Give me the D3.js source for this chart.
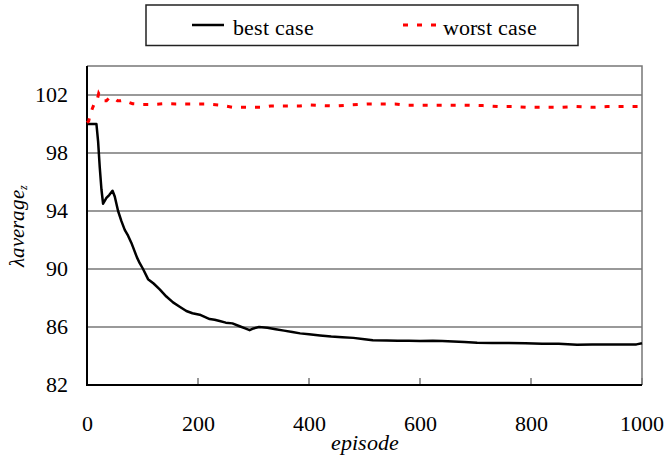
<!DOCTYPE html>
<html>
<head>
<meta charset="utf-8">
<script src="https://cdn.jsdelivr.net/npm/d3@7"></script>
<style>
  @font-face { font-family: "RefSerif"; font-style: normal; src: local("Liberation Serif"), local("LiberationSerif"), local("Times New Roman"); }
  @font-face { font-family: "RefSerif"; font-style: italic; src: local("Liberation Serif Italic"), local("LiberationSerif-Italic"), local("Times New Roman Italic"); }
</style>
</head>
<body style="margin:0">
<svg id="fig" width="668" height="461"></svg>
<script>
// best case curve (episode, value)
var bestEp  = [0, 5, 10, 17, 20, 23, 26, 29, 35, 40, 46, 50, 56, 62, 68, 74, 80, 85, 90, 95, 101, 110, 120, 131, 143, 155, 167, 179, 190, 203, 212, 221, 230, 239, 250, 262, 275, 285, 293, 300, 310, 325, 340, 355, 370, 384, 400, 420, 440, 460, 480, 500, 515, 540, 560, 580, 600, 623, 640, 660, 680, 703, 730, 760, 790, 820, 850, 883, 910, 940, 970, 990, 1000];
var bestVal = [100, 100, 100, 100, 98.8, 97, 95.5, 94.5, 94.9, 95.1, 95.4, 95.0, 94.0, 93.3, 92.7, 92.3, 91.8, 91.3, 90.8, 90.4, 90.0, 89.3, 89.0, 88.6, 88.1, 87.7, 87.4, 87.1, 86.95, 86.85, 86.7, 86.55, 86.5, 86.41, 86.3, 86.25, 86.05, 85.9, 85.78, 85.9, 86.0, 85.95, 85.85, 85.75, 85.65, 85.56, 85.5, 85.42, 85.35, 85.3, 85.25, 85.15, 85.08, 85.07, 85.05, 85.05, 85.04, 85.05, 85.03, 85.0, 84.97, 84.92, 84.9, 84.9, 84.88, 84.85, 84.85, 84.78, 84.8, 84.8, 84.8, 84.8, 84.88];

// worst case curve
var worstEp  = [0, 3, 6, 10, 14, 18, 21, 25, 30, 35, 40, 45, 50, 55, 60, 68, 75, 82, 89, 100, 120, 140, 160, 180, 200, 215, 240, 263, 290, 317, 331, 360, 384, 400, 420, 445, 470, 505, 530, 555, 578, 620, 660, 685, 713, 740, 770, 795, 825, 855, 882, 910, 937, 970, 1000];
var worstVal = [100.1, 100.2, 100.7, 101.1, 101.5, 101.6, 102.1, 101.8, 101.6, 101.6, 101.8, 101.7, 101.75, 101.6, 101.6, 101.65, 101.5, 101.4, 101.38, 101.35, 101.35, 101.4, 101.38, 101.38, 101.38, 101.38, 101.3, 101.15, 101.15, 101.15, 101.24, 101.24, 101.24, 101.31, 101.28, 101.24, 101.3, 101.38, 101.38, 101.38, 101.29, 101.29, 101.29, 101.29, 101.27, 101.2, 101.2, 101.15, 101.15, 101.15, 101.2, 101.15, 101.2, 101.2, 101.2];

var xTicks = [0, 200, 400, 600, 800, 1000];
var yTicks = [82, 86, 90, 94, 98, 102];
var seriesNames = ["best case", "worst case"];

var fam = "RefSerif, 'Liberation Serif', serif";

var svg = d3.select("#fig");

var x = d3.scaleLinear().domain([0, 1000]).range([87, 642]);
var y = d3.scaleLinear().domain([82, 104]).range([385, 66]);

// gridlines
svg.append("g")
  .selectAll("line")
  .data(yTicks.slice(1))
  .enter().append("line")
    .attr("x1", x(0)).attr("x2", x(1000))
    .attr("y1", d => y(d)).attr("y2", d => y(d))
    .attr("stroke", "#777").attr("stroke-width", 1.5);

// frame top + right
svg.append("path")
  .attr("d", `M${x(0)},${y(104)}H${x(1000)}V${y(82)}`)
  .attr("fill", "none").attr("stroke", "#777").attr("stroke-width", 1.5);

// x ticks (inward)
svg.append("g")
  .selectAll("line")
  .data(xTicks.slice(1))
  .enter().append("line")
    .attr("x1", d => x(d)).attr("x2", d => x(d))
    .attr("y1", y(82)).attr("y2", y(82) - 7)
    .attr("stroke", "#777").attr("stroke-width", 1.5);

// axis lines
svg.append("path")
  .attr("d", `M${x(0)},${y(104)}V${y(82)}H${x(1000)}`)
  .attr("fill", "none").attr("stroke", "#000").attr("stroke-width", 2);

// tick labels
svg.selectAll("text.ylab")
  .data(yTicks)
  .enter().append("text")
    .attr("class", "ylab")
    .attr("x", 68).attr("y", d => y(d) + 7)
    .attr("text-anchor", "end")
    .attr("font-size", 22)
    .style("font-family", fam)
    .text(d => d);

svg.selectAll("text.xlab")
  .data(xTicks)
  .enter().append("text")
    .attr("class", "xlab")
    .attr("x", d => x(d)).attr("y", 431)
    .attr("text-anchor", "middle")
    .attr("font-size", 22)
    .style("font-family", fam)
    .text(d => d);

// axis titles
svg.append("text")
  .attr("x", x(500)).attr("y", 450)
  .attr("text-anchor", "middle")
  .attr("font-size", 22)
  .style("font-family", fam)
  .style("font-style", "italic")
  .text("episode");

var yt = svg.append("text")
  .attr("transform", "translate(24,226) rotate(-90)")
  .attr("text-anchor", "middle")
  .attr("font-size", 21)
  .style("font-family", fam)
  .style("font-style", "italic");
yt.append("tspan").text("λaverage");
yt.append("tspan").attr("font-size", 12).attr("dy", 3).text("z");

// lines
var line = d3.line().x(d => x(d[0])).y(d => y(d[1]));

svg.append("path")
  .datum(bestEp.map((e, i) => [e, bestVal[i]]))
  .attr("d", line)
  .attr("fill", "none").attr("stroke", "#000").attr("stroke-width", 2.5)
  .attr("stroke-linejoin", "round");

svg.append("path")
  .datum(worstEp.map((e, i) => [e, worstVal[i]]))
  .attr("d", line)
  .attr("fill", "none").attr("stroke", "#f00").attr("stroke-width", 3)
  .attr("stroke-dasharray", "5,9");

// legend
var lg = svg.append("g");
lg.append("rect")
  .attr("x", 146).attr("y", 5).attr("width", 432).attr("height", 40.5)
  .attr("fill", "#fff").attr("stroke", "#222").attr("stroke-width", 1.5);

var legendItems = [
  { name: seriesNames[0], x0: 192, x1: 224, tx: 233, color: "#000", dash: null, w: 2.5 },
  { name: seriesNames[1], x0: 403, x1: 438, tx: 443, color: "#f00", dash: "5,9", w: 3 }
];
legendItems.forEach(it => {
  lg.append("line")
    .attr("x1", it.x0).attr("x2", it.x1)
    .attr("y1", 25).attr("y2", 25)
    .attr("stroke", it.color).attr("stroke-width", it.w)
    .attr("stroke-dasharray", it.dash);
  lg.append("text")
    .attr("x", it.tx).attr("y", 35)
    .attr("font-size", 22)
    .style("font-family", fam)
    .text(it.name);
});
</script>
</body>
</html>
